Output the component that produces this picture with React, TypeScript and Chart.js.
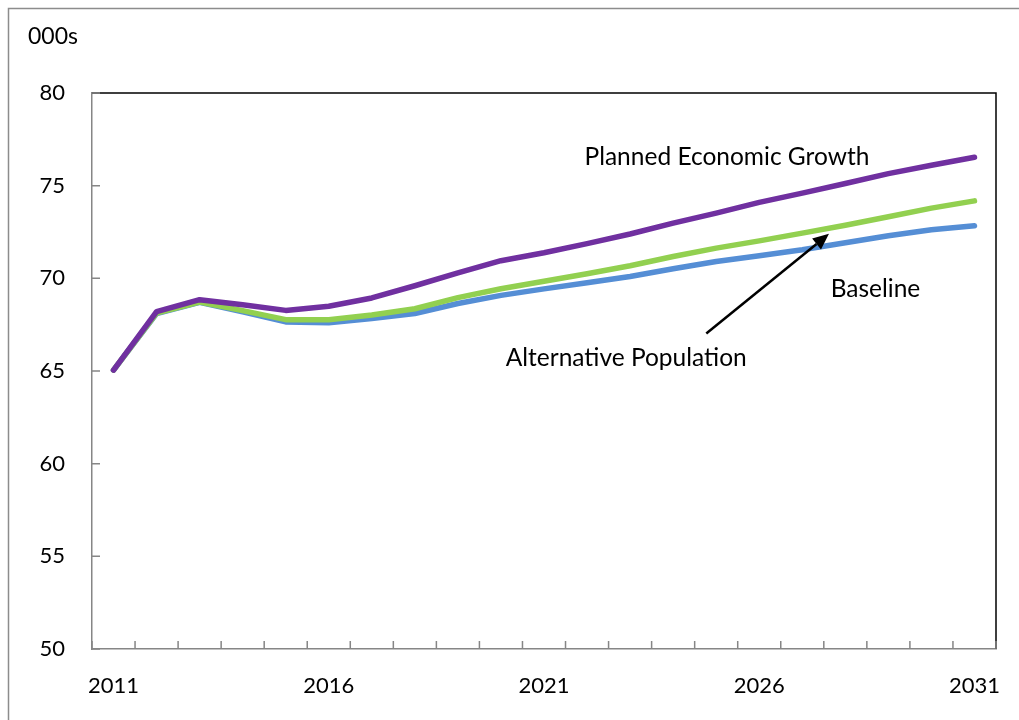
import React, { useEffect, useRef } from "react";
import { Chart, registerables } from "chart.js";

Chart.register(...registerables);

const years = [
  "2011", "2012", "2013", "2014", "2015", "2016", "2017", "2018", "2019", "2020",
  "2021", "2022", "2023", "2024", "2025", "2026", "2027", "2028", "2029", "2030", "2031",
];

const plannedGrowth = [
  65.05, 68.2, 68.85, 68.58, 68.27, 68.49, 68.94, 69.6, 70.29, 70.95,
  71.38, 71.87, 72.39, 72.98, 73.52, 74.1, 74.6, 75.12, 75.65, 76.1, 76.53,
];
const alternativePopulation = [
  65.05, 68.12, 68.72, 68.26, 67.77, 67.77, 68.02, 68.36, 68.96, 69.44,
  69.84, 70.25, 70.68, 71.18, 71.63, 72.02, 72.44, 72.86, 73.32, 73.79, 74.18,
];
const baseline = [
  65.05, 68.1, 68.7, 68.19, 67.65, 67.6, 67.83, 68.1, 68.64, 69.08,
  69.43, 69.76, 70.1, 70.52, 70.91, 71.22, 71.54, 71.92, 72.3, 72.62, 72.84,
];

const yMin = 50;
const yMax = 80;
const yStep = 5;
const unitLabel = "000s";

// annotation positions in data coordinates: [category index, value]
const labelPlanned = { text: "Planned Economic Growth", x: 14.25, y: 76.55 };
const labelBaseline = { text: "Baseline", x: 17.7, y: 69.4 };
const labelAlt = { text: "Alternative Population", x: 11.91, y: 65.67 };
const arrowFrom = { x: 13.77, y: 67.02 };
const arrowTo = { x: 16.62, y: 72.4 };

const FONT = "Lato, 'Open Sans', sans-serif";

export default function App() {
  const canvasRef = useRef<HTMLCanvasElement | null>(null);

  useEffect(() => {
    document.body.style.margin = "0";
    const canvas = canvasRef.current;
    if (!canvas) return;

    const decor = {
      id: "decor",
      beforeDatasetsDraw(chart: any) {
        const ctx = chart.ctx;
        const { left, right, top, bottom } = chart.chartArea;
        const xs = chart.scales.x;
        const ys = chart.scales.y;
        ctx.save();
        // outer border
        ctx.strokeStyle = "#8c8c8c";
        ctx.lineWidth = 1.5;
        ctx.beginPath();
        ctx.moveTo(1019, 8.5);
        ctx.lineTo(8.5, 8.5);
        ctx.lineTo(8.5, 720);
        ctx.stroke();
        // top and right black border
        ctx.strokeStyle = "#000";
        ctx.lineWidth = 1.5;
        ctx.beginPath();
        ctx.moveTo(left, top);
        ctx.lineTo(right, top);
        ctx.lineTo(right, bottom);
        ctx.stroke();
        // inner ticks
        ctx.strokeStyle = "#868686";
        ctx.lineWidth = 1.5;
        ctx.beginPath();
        for (let v = yMin; v <= yMax; v += yStep) {
          const py = ys.getPixelForValue(v);
          ctx.moveTo(left, py);
          ctx.lineTo(left + 8, py);
        }
        for (let i = 0; i <= years.length; i++) {
          const px = xs.getPixelForValue(i - 0.5);
          ctx.moveTo(px, bottom);
          ctx.lineTo(px, bottom - 8);
        }
        ctx.stroke();
        ctx.restore();
      },
      afterDatasetsDraw(chart: any) {
        const ctx = chart.ctx;
        const xs = chart.scales.x;
        const ys = chart.scales.y;
        ctx.save();
        ctx.fillStyle = "#000";
        ctx.textBaseline = "middle";
        ctx.textAlign = "left";
        ctx.font = `23px ${FONT}`;
        ctx.fillText(unitLabel, 28, 37);
        ctx.textAlign = "center";
        ctx.font = `24.5px ${FONT}`;
        for (const l of [labelPlanned, labelBaseline, labelAlt]) {
          ctx.fillText(l.text, xs.getPixelForValue(l.x), ys.getPixelForValue(l.y));
        }
        // arrow
        const x1 = xs.getPixelForValue(arrowFrom.x);
        const y1 = ys.getPixelForValue(arrowFrom.y);
        const x2 = xs.getPixelForValue(arrowTo.x);
        const y2 = ys.getPixelForValue(arrowTo.y);
        const ang = Math.atan2(y2 - y1, x2 - x1);
        const head = 16;
        const bx = x2 - head * Math.cos(ang);
        const by = y2 - head * Math.sin(ang);
        ctx.strokeStyle = "#000";
        ctx.lineWidth = 2.5;
        ctx.beginPath();
        ctx.moveTo(x1, y1);
        ctx.lineTo(bx, by);
        ctx.stroke();
        ctx.beginPath();
        ctx.moveTo(x2, y2);
        ctx.lineTo(bx + 7 * Math.sin(ang), by - 7 * Math.cos(ang));
        ctx.lineTo(bx - 7 * Math.sin(ang), by + 7 * Math.cos(ang));
        ctx.closePath();
        ctx.fillStyle = "#000";
        ctx.fill();
        ctx.restore();
      },
    };

    const lineStyle = {
      borderWidth: 5.5,
      pointRadius: 0,
      pointHoverRadius: 0,
      tension: 0,
      borderCapStyle: "round" as const,
      borderJoinStyle: "round" as const,
      fill: false,
    };

    const chart = new Chart(canvas, {
      type: "line",
      data: {
        labels: years,
        datasets: [
          { label: "Planned Economic Growth", data: plannedGrowth, borderColor: "#7030A0", ...lineStyle },
          { label: "Alternative Population", data: alternativePopulation, borderColor: "#92D050", ...lineStyle },
          { label: "Baseline", data: baseline, borderColor: "#558ED5", ...lineStyle },
        ],
      },
      options: {
        responsive: false,
        animation: false,
        events: [],
        layout: { padding: { left: 0, top: 93, right: 23, bottom: 0 } },
        plugins: {
          legend: { display: false },
          tooltip: { enabled: false },
          title: { display: false },
        },
        scales: {
          x: {
            type: "category",
            offset: true,
            afterFit(scale: any) {
              scale.height = 71;
              scale.paddingLeft = 0;
              scale.paddingRight = 0;
            },
            grid: { display: true, drawOnChartArea: false, drawTicks: false, offset: true },
            border: { display: true, color: "#868686", width: 1.5 },
            ticks: {
              autoSkip: false,
              maxRotation: 0,
              minRotation: 0,
              padding: 24,
              color: "#000",
              font: { family: FONT, size: 22 },
              callback: (_v: any, i: number) => (i % 5 === 0 ? years[i] : ""),
            },
          },
          y: {
            min: yMin,
            max: yMax,
            afterFit(scale: any) {
              scale.width = 92;
              scale.paddingTop = 0;
              scale.paddingBottom = 0;
            },
            grid: { display: true, drawOnChartArea: false, drawTicks: false },
            border: { display: true, color: "#868686", width: 1.5 },
            ticks: {
              stepSize: yStep,
              padding: 27,
              color: "#000",
              font: { family: FONT, size: 22 },
            },
          },
        },
      },
      plugins: [decor],
    });

    return () => chart.destroy();
  }, []);

  return (
    <div style={{ position: "fixed", left: 0, top: 0, width: 1019, height: 720, background: "#fff" }}>
      <canvas ref={canvasRef} width={1019} height={720} />
    </div>
  );
}
